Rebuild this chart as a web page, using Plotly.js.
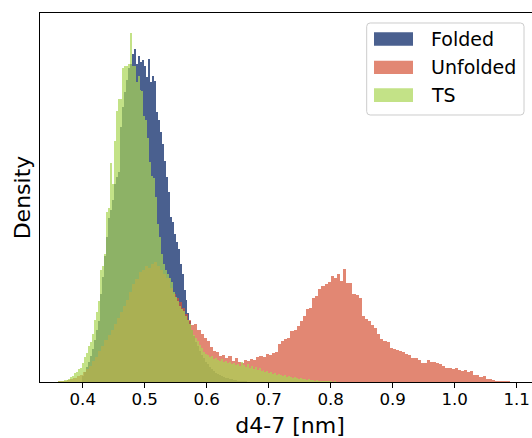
<!DOCTYPE html>
<html>
<head>
<meta charset="utf-8">
<script src="https://cdn.plot.ly/plotly-3.0.1.min.js"></script>
<style>
html,body{margin:0;padding:0;overflow:hidden;background:#fff;}
#chart{width:545px;height:438px;}
</style>
</head>
<body>
<div id="chart"></div>
<script>
// ---- data (histogram densities) ----
const seriesNames = ["Folded", "Unfolded", "TS"];
const tickValues = [0.4, 0.5, 0.6, 0.7, 0.8, 0.9, 1.0, 1.1];
const tickLabels = ["0.4", "0.5", "0.6", "0.7", "0.8", "0.9", "1.0", "1.1"];

const foldedStart = 0.401, foldedWidth = 0.0032;
const foldedDensity = [
  0.18,0.30,0.45,0.60,0.78,0.99,1.26,1.56,1.83,2.64,
  3.15,3.78,4.35,4.92,5.16,5.46,5.94,6.15,6.30,7.65,
  8.25,8.70,9.06,9.42,9.54,9.84,9.99,9.54,9.78,9.60,
  9.66,9.48,9.15,9.69,9.00,9.18,9.03,8.10,7.86,7.50,
  7.14,6.63,6.15,5.70,4.95,4.80,4.44,4.20,3.99,3.54,
  3.24,2.76,2.46,2.07,1.83,1.56,1.38,1.20,1.08,0.93,
  0.81,0.72,0.60,0.54,0.45,0.39,0.33,0.27,0.24,0.21,
  0.18,0.15,0.12,0.12,0.09,0.09,0.06,0.06,0.03,0.03,
  0.03,0.02,0.02,0.01
];

const unfoldedStart = 0.3625, unfoldedWidth = 0.005;
const unfoldedDensity = [
  0.02,0.03,0.03,0.06,0.09,0.12,0.18,0.21,0.30,0.39,
  0.48,0.63,0.75,0.93,1.08,1.26,1.41,1.56,1.74,1.92,
  2.10,2.28,2.46,2.70,2.94,3.09,3.30,3.36,3.48,3.42,
  3.54,3.60,3.48,3.36,3.24,3.12,2.82,2.64,2.52,2.40,
  2.22,2.04,1.86,1.71,1.74,1.56,1.44,1.32,1.23,1.05,
  0.93,0.90,0.78,0.81,0.72,0.78,0.63,0.72,0.60,0.57,
  0.66,0.63,0.69,0.66,0.75,0.78,0.75,0.84,0.81,0.87,
  0.90,1.14,1.23,1.29,1.32,1.53,1.56,1.68,1.83,1.98,
  2.19,2.22,2.52,2.58,2.79,2.88,2.94,3.00,3.18,3.12,
  3.24,3.03,3.39,2.97,2.97,2.64,2.61,2.52,1.98,1.89,
  1.83,1.71,1.62,1.44,1.29,1.23,1.20,1.02,0.99,0.96,
  0.93,0.90,0.84,0.81,0.72,0.72,0.66,0.57,0.57,0.66,
  0.60,0.60,0.57,0.54,0.48,0.42,0.42,0.39,0.42,0.36,
  0.33,0.36,0.30,0.33,0.21,0.21,0.15,0.18,0.09,0.09,
  0.06,0.03,0.02,0.02,0.02,0.02
];

const tsStart = 0.362, tsWidth = 0.0032;
const tsDensity = [
  0.02,0.03,0.03,0.06,0.06,0.09,0.15,0.18,0.27,0.30,
  0.39,0.42,0.57,0.75,0.87,1.08,1.20,1.44,1.86,2.10,
  2.43,3.36,3.48,3.84,5.10,5.22,6.57,5.94,7.23,8.13,
  8.49,8.49,9.42,9.48,9.48,9.54,10.47,9.48,9.48,9.00,
  9.18,8.76,8.73,7.98,7.86,7.32,6.60,6.18,6.12,5.55,
  4.74,4.35,3.84,3.54,3.36,3.24,3.12,3.00,2.70,2.55,
  2.43,2.28,2.19,2.13,1.98,1.86,1.74,1.56,1.41,1.32,
  1.23,1.11,1.02,0.90,0.84,0.81,0.75,0.78,0.69,0.72,
  0.66,0.63,0.69,0.60,0.63,0.57,0.60,0.54,0.57,0.51,
  0.54,0.48,0.60,0.51,0.45,0.54,0.42,0.48,0.39,0.45,
  0.36,0.42,0.33,0.36,0.30,0.33,0.27,0.30,0.24,0.27,
  0.21,0.24,0.21,0.18,0.21,0.15,0.18,0.15,0.12,0.15,
  0.12,0.09,0.12,0.09,0.09,0.06,0.09,0.06,0.06,0.03,
  0.06,0.03,0.03,0.03,0.02,0.03,0.02,0.02,0.01,0.02,
  0.01,0.01,0.01,0.00,0.01,0.00
];

// ---- styling ----
const colFolded = "rgb(74,96,143)";
const colUnfolded = "rgba(213,84,55,0.7)";
const colTS = "rgba(169,214,84,0.7)";
const FONT = "DejaVu Sans, Liberation Sans, sans-serif";

function centers(start, width, n) {
  const out = [];
  for (let i = 0; i < n; i++) out.push(start + i * width);
  return out;
}

function barTrace(name, start, width, vals, color) {
  return {
    type: "bar",
    name: name,
    x: centers(start, width, vals.length),
    y: vals,
    width: width,
    marker: { color: color, line: { width: 0 } },
    showlegend: false,
    hoverinfo: "skip"
  };
}

const traces = [
  barTrace(seriesNames[0], foldedStart, foldedWidth, foldedDensity, colFolded),
  barTrace(seriesNames[1], unfoldedStart, unfoldedWidth, unfoldedDensity, colUnfolded),
  barTrace(seriesNames[2], tsStart, tsWidth, tsDensity, colTS)
];

// manual legend (matplotlib style, rounded frame)
function roundRect(x0, x1, y0, y1, rx, ry) {
  return "M" + (x0 + rx) + "," + y0 +
    " L" + (x1 - rx) + "," + y0 + " Q" + x1 + "," + y0 + " " + x1 + "," + (y0 + ry) +
    " L" + x1 + "," + (y1 - ry) + " Q" + x1 + "," + y1 + " " + (x1 - rx) + "," + y1 +
    " L" + (x0 + rx) + "," + y1 + " Q" + x0 + "," + y1 + " " + x0 + "," + (y1 - ry) +
    " L" + x0 + "," + (y0 + ry) + " Q" + x0 + "," + y0 + " " + (x0 + rx) + "," + y0 + " Z";
}
const legColors = [colFolded, colUnfolded, colTS];
const patchY = [[0.9114, 0.9477], [0.8347, 0.8707], [0.7588, 0.7959]];
const textY = [0.9295, 0.8528, 0.7778];
const shapes = [{
  type: "path", xref: "paper", yref: "paper",
  path: roundRect(0.6534, 0.9680, 0.7236, 0.9729, 0.007, 0.0095),
  fillcolor: "rgba(255,255,255,0.8)", line: { color: "#cccccc", width: 1 }
}];
const annotations = [];
for (let i = 0; i < 3; i++) {
  shapes.push({
    type: "rect", xref: "paper", yref: "paper",
    x0: 0.668, x1: 0.746, y0: patchY[i][0], y1: patchY[i][1],
    fillcolor: legColors[i], line: { width: 0 }
  });
  annotations.push({
    xref: "paper", yref: "paper", x: 0.778, y: textY[i],
    xanchor: "left", yanchor: "middle", showarrow: false,
    text: seriesNames[i], font: { family: FONT, size: 19, color: "#000" }
  });
}

const layout = {
  width: 545, height: 438,
  margin: { l: 40, r: 5, t: 13, b: 56, pad: 0 },
  paper_bgcolor: "#fff", plot_bgcolor: "#fff",
  barmode: "overlay", bargap: 0,
  font: { family: FONT, color: "#000" },
  xaxis: {
    range: [0.3311, 1.1376],
    tickvals: tickValues, ticktext: tickLabels,
    ticks: "outside", ticklen: 5, tickwidth: 1, tickcolor: "#000",
    ticklabelstandoff: -3,
    tickfont: { family: FONT, size: 16.7, color: "#000" },
    showline: true, mirror: true, linecolor: "#000", linewidth: 1,
    showgrid: false, zeroline: false,
    title: { text: "d4-7 [nm]", font: { family: FONT, size: 22, color: "#000" }, standoff: 11 }
  },
  yaxis: {
    range: [0, 11.07],
    showticklabels: false, ticks: "",
    showline: true, mirror: true, linecolor: "#000", linewidth: 1,
    showgrid: false, zeroline: false,
    title: { text: "Density", font: { family: FONT, size: 22, color: "#000" }, standoff: 2 }
  },
  shapes: shapes,
  annotations: annotations
};

Plotly.newPlot("chart", traces, layout, { displayModeBar: false, staticPlot: true });
</script>
</body>
</html>
